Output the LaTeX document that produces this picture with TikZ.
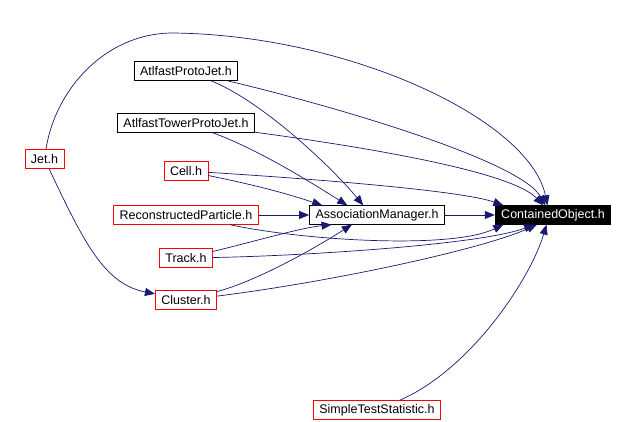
\documentclass[tikz,border=0pt]{standalone}
\usepackage{fontspec}
\setmainfont{Liberation Sans}
\usetikzlibrary{arrows.meta}
\definecolor{edgeblue}{RGB}{25,25,112}

\begin{document}
\begin{tikzpicture}[x=1pt,y=-1pt]
    \useasboundingbox (0,0) rectangle (636,422);
    \begin{scope}[every node/.style={rectangle,draw,line width=0.8pt,inner xsep=6pt,inner ysep=0pt,minimum height=18.5pt,font=\fontsize{12.5}{14}\selectfont}]
      \node[draw=black] (APJ) at (186,71) {AtlfastProtoJet.h};
      \node[draw=black] (ATPJ) at (186,123) {AtlfastTowerProtoJet.h};
      \node[draw=red] (Jet) at (44.5,159) {Jet.h};
      \node[draw=red] (Cell) at (186,171) {Cell.h};
      \node[draw=red] (RP) at (186,215) {ReconstructedParticle.h};
      \node[draw=black] (AM) at (377,215) {AssociationManager.h};
      \node[draw=black,fill=black,text=white] (CO) at (553,215) {ContainedObject.h};
      \node[draw=red] (Track) at (186,258) {Track.h};
      \node[draw=red] (Cluster) at (186,300) {Cluster.h};
      \node[draw=red] (STS) at (377,410) {SimpleTestStatistic.h};
    \end{scope}

    \begin{scope}[>={Triangle[length=10pt,width=8pt]},
        link/.style={draw=edgeblue,line width=0.7pt,->},
        every edge/.style={link}]
      % straight ones
      \path (RP) edge (AM);
      \path (AM) edge (CO);
      % into AssociationManager
      \draw[link] (APJ) .. controls (260,100) and (330,165) .. (AM.145);
      \draw[link] (ATPJ) .. controls (260,150) and (315,185) .. (AM.162);
      \draw[link] (Cell) .. controls (270,188) and (300,198) .. (AM.170);
      \draw[link] (Track) .. controls (260,240) and (300,228) .. (AM.192);
      \draw[link] (Cluster) .. controls (260,280) and (320,245) .. (AM.201);
      % into ContainedObject
      \draw[link] (Jet) .. controls (55,90) and (105,33) .. (173,33)
                        .. controls (350,35) and (530,120) .. (CO.120);
      \draw[link] (APJ) .. controls (330,105) and (520,160) .. (CO.128);
      \draw[link] (ATPJ) .. controls (350,145) and (510,170) .. (CO.135);
      \draw[link] (Cell) .. controls (300,178) and (460,190) .. (CO.169);
      \draw[link] (RP) .. controls (300,240) and (450,250) .. (CO.191);
      \draw[link] (Track) .. controls (300,256) and (480,245) .. (CO.207);
      \draw[link] (Cluster) .. controls (330,282) and (480,250) .. (CO.211);
      \draw[link] (STS) .. controls (470,370) and (530,280) .. (CO.236);
      % Jet down to Cluster
      \draw[link] (Jet) .. controls (85,245) and (105,284) .. (Cluster);
    \end{scope}
\end{tikzpicture}
\end{document}
